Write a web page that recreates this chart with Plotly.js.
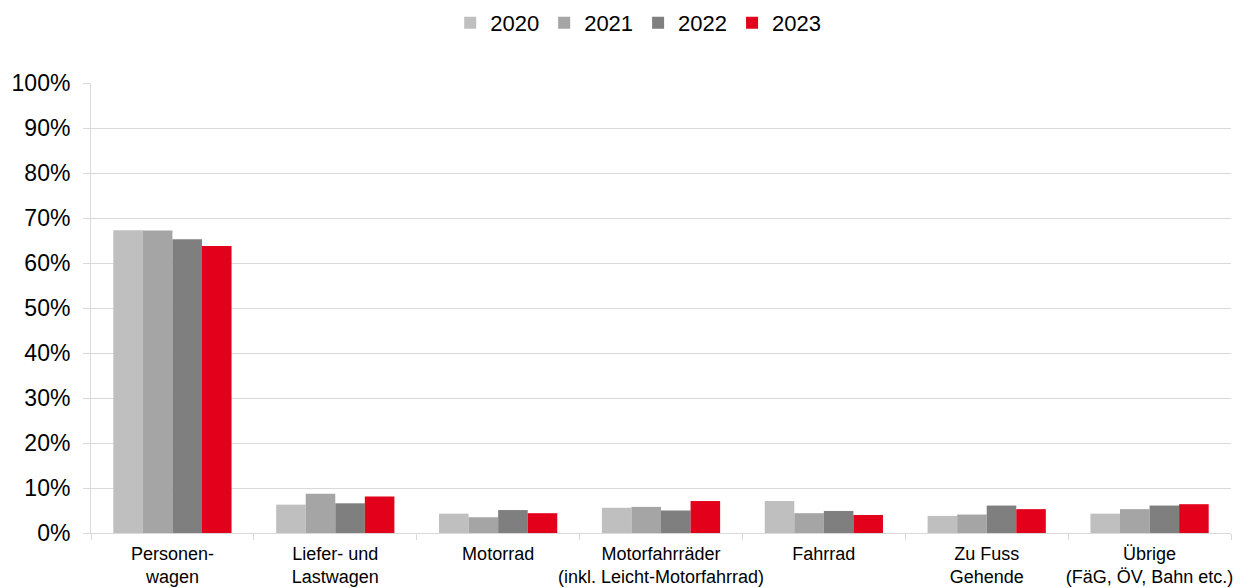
<!DOCTYPE html>
<html>
<head>
<meta charset="utf-8">
<script src="https://cdn.plot.ly/plotly-3.0.1.min.js"></script>
<style>html,body{margin:0;padding:0;background:#fff}#chart{width:1251px;height:588px}</style>
</head>
<body>
<div id="chart"></div>
<script>
const categories = ["Personen-<br>wagen", "Liefer- und<br>Lastwagen", "Motorrad", "Motorfahrräder<br>(inkl. Leicht-Motorfahrrad)", "Fahrrad", "Zu Fuss<br>Gehende", "Übrige<br>(FäG, ÖV, Bahn etc.)"];
const seriesNames = ["2020", "2021", "2022", "2023"];
const values2020 = [0.673, 0.063, 0.043, 0.056, 0.071, 0.038, 0.043];
const values2021 = [0.672, 0.087, 0.035, 0.058, 0.044, 0.041, 0.053];
const values2022 = [0.653, 0.066, 0.051, 0.050, 0.049, 0.061, 0.061];
const values2023 = [0.638, 0.081, 0.044, 0.071, 0.040, 0.053, 0.064];
const colors = ["#bfbfbf", "#a5a5a5", "#7f7f7f", "#e2001a"];
const allValues = [values2020, values2021, values2022, values2023];

const traces = seriesNames.map((name, i) => ({
  type: "bar",
  name: name,
  x: categories,
  y: allValues[i],
  marker: {color: colors[i], line: {width: 0}},
  hoverinfo: "skip"
}));

const font = "Liberation Sans, Arial, sans-serif";
const layout = {
  width: 1251, height: 588,
  margin: {l: 91, r: 20, t: 83, b: 55},
  paper_bgcolor: "#fff", plot_bgcolor: "#fff",
  barmode: "group", bargap: 0.274, bargroupgap: 0,
  font: {family: font, color: "#000"},
  showlegend: true,
  legend: {orientation: "h", x: 0.48, xanchor: "center", yref: "container", y: 0.961, yanchor: "middle",
           font: {size: 22, family: font, color: "#000"}, traceorder: "normal", itemwidth: 30},
  xaxis: {type: "category", showline: true, linecolor: "#d9d9d9", linewidth: 1, tickangle: 0, automargin: false,
          ticks: "outside", tickson: "boundaries", ticklen: 6, tickcolor: "#d9d9d9", ticklabelstandoff: 4,
          tickfont: {size: 18, family: font, color: "#000"}, showgrid: false, zeroline: false, fixedrange: true},
  yaxis: {range: [0, 1], dtick: 0.1, tickformat: ".0%", showline: true, linecolor: "#d9d9d9", linewidth: 1,
          ticks: "outside", ticklen: 7, tickcolor: "#d9d9d9", gridcolor: "#d9d9d9", gridwidth: 1, automargin: false,
          zeroline: false, tickfont: {size: 23, family: font, color: "#000"}, ticklabelstandoff: 8, fixedrange: true}
};
Plotly.newPlot("chart", traces, layout, {displayModeBar: false, staticPlot: true});
</script>
</body>
</html>
